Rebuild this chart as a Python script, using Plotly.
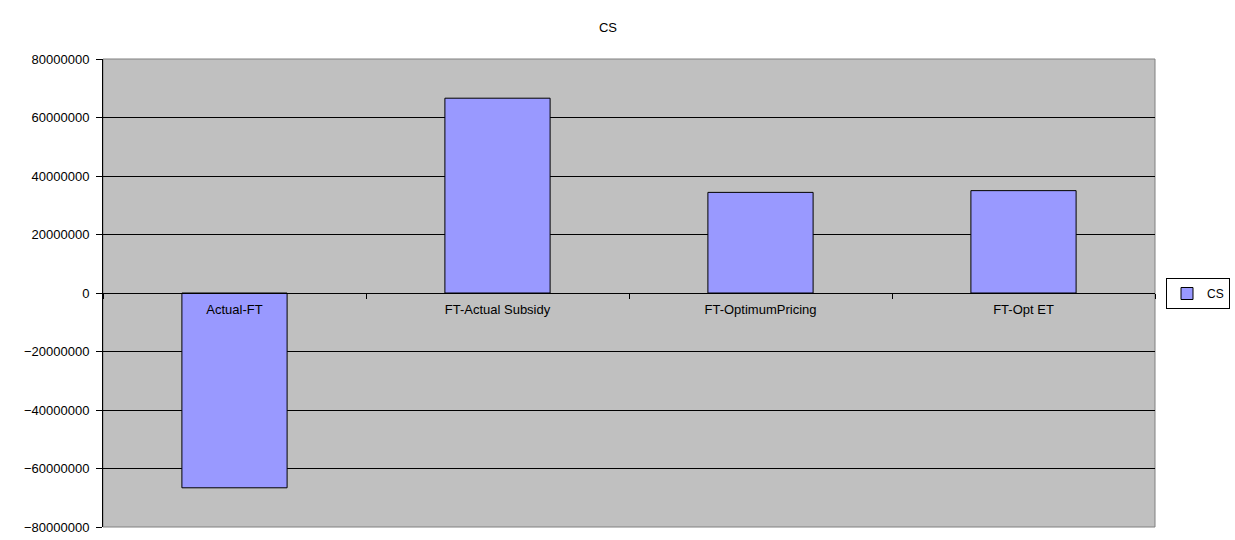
import plotly.graph_objects as go

categories = ["Actual-FT", "FT-Actual Subsidy", "FT-OptimumPricing", "FT-Opt ET"]
cs_values = [-66600000, 66600000, 34400000, 35000000]
series_name = "CS"
title_text = "CS"

FONT = "Liberation Sans, Arial, sans-serif"

fig = go.Figure()
fig.add_trace(go.Bar(
    x=categories, y=cs_values, name=series_name,
    marker=dict(color="#9999FF", line=dict(color="#000000", width=1)),
    showlegend=True,
))

fig.update_layout(
    width=1235, height=540,
    margin=dict(l=103, r=80, t=59, b=13, pad=0, autoexpand=False),
    paper_bgcolor="#FFFFFF", plot_bgcolor="#C0C0C0",
    font=dict(family=FONT, size=13, color="#000000"),
    title=dict(text=title_text, x=608/1235, xanchor="center", y=1-27/540, yanchor="middle",
               font=dict(family=FONT, size=13, color="#000000")),
    bargap=0.6,
    showlegend=True,
    legend=dict(x=1166/1235, xref="container", xanchor="left",
                y=1-293.5/540, yref="container", yanchor="middle",
                bgcolor="#FFFFFF", bordercolor="#000000", borderwidth=1,
                font=dict(family=FONT, size=12), itemwidth=30,
                tracegroupgap=0),
    shapes=[dict(type="rect", xref="paper", yref="paper", x0=0, x1=1, y0=0, y1=1,
                 line=dict(color="#808080", width=1), layer="below")],
)

fig.update_xaxes(
    type="category", anchor="free", position=0.5, automargin=False,
    showline=True, linecolor="#000000", linewidth=1,
    ticks="outside", tickson="boundaries", ticklen=5, tickcolor="#000000",
    ticklabelstandoff=4,
    showgrid=False, zeroline=False,
    tickfont=dict(family=FONT, size=13, color="#000000"),
    range=[-0.5, 3.5],
)

fig.update_yaxes(
    range=[-80000000, 80000000], dtick=20000000, tick0=0, tickformat="d",
    automargin=False,
    showline=True, linecolor="#000000", linewidth=1,
    ticks="outside", ticklen=6, tickcolor="#000000",
    ticklabelstandoff=4,
    showgrid=True, gridcolor="#000000", gridwidth=1,
    zeroline=True, zerolinecolor="#000000", zerolinewidth=1,
    tickfont=dict(family=FONT, size=13, color="#000000"),
)

fig.write_html("out.html")
